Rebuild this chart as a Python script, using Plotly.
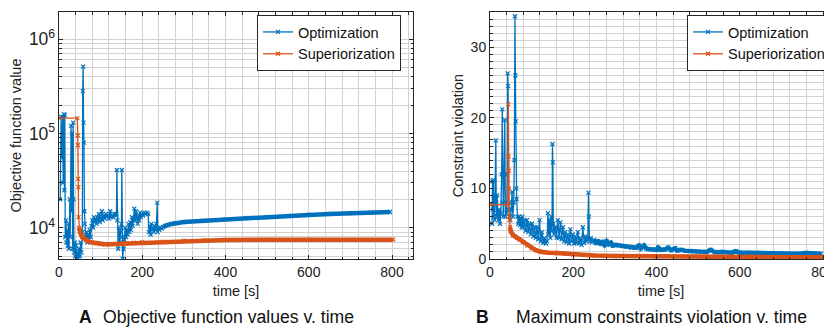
import plotly.graph_objects as go

# ---------------- data ----------------
# Panel A: objective function value vs time
opt_obj_t = [3, 5, 7, 9, 10, 12, 13, 14, 15, 17, 18, 20, 21, 23, 24, 26, 27, 29, 30, 31,
             33, 34, 35, 36, 38, 39, 41, 42, 44, 46, 48, 50, 52, 54, 56, 57, 58, 59, 60, 61,
             62, 64, 66, 68, 70, 72, 74, 76, 78, 80, 82, 84, 86, 88, 90, 92, 94, 96, 98, 100,
             103, 105, 108, 110, 113, 115, 118, 120, 123, 125, 128, 130, 133, 136, 138, 139, 140, 142, 144, 146,
             148, 150, 151, 152, 153, 155, 157, 159, 161, 163, 165, 167, 169, 171, 173, 175, 177, 179, 181, 183,
             185, 187, 189, 191, 193, 195, 197, 199, 202, 205, 208, 211, 214, 216, 218, 220, 222, 224, 226, 228,
             230, 232, 234, 236, 237, 239, 241, 244, 247, 250, 255, 260, 270, 280, 300, 350, 400, 450, 500, 550,
             600, 650, 700, 750, 795]
opt_obj_v = [2.0e4, 1.5e5, 5.5e4, 1.5e5, 3.0e4, 1.6e5, 2.5e4, 1.55e5, 8.0e3, 1.2e4, 7.0e3, 9.5e3, 6.5e3, 1.1e4, 6.0e3, 2.0e4, 8.0e3, 1.2e5, 1.5e4, 1.0e5,
             6.0e3, 1.3e5, 2.0e4, 5.5e3, 7.0e3, 5.0e3, 6.5e3, 4.8e3, 5.5e3, 4.7e3, 6.0e3, 5.0e3, 7.0e3, 5.5e3, 9.0e3, 2.8e5, 5.1e5, 1.3e5, 8.0e4, 1.5e4,
             1.1e4, 8.0e3, 9.0e3, 7.0e3, 8.5e3, 7.5e3, 9.5e3, 8.0e3, 1.05e4, 1.2e4, 1.0e4, 1.3e4, 1.15e4, 1.25e4, 1.1e4, 1.3e4, 1.2e4, 1.4e4, 1.15e4, 1.25e4,
             1.5e4, 1.2e4, 1.35e4, 1.25e4, 1.4e4, 1.3e4, 1.35e4, 1.25e4, 1.5e4, 1.3e4, 1.35e4, 1.3e4, 1.4e4, 1.35e4, 1.4e4, 4.1e4, 1.2e4, 6.0e3, 1.0e4, 7.0e3,
             9.0e3, 1.1e4, 4.1e4, 8.0e3, 4.7e3, 6.0e3, 7.5e3, 1.0e4, 8.0e3, 9.5e3, 8.5e3, 1.1e4, 9.0e3, 1.15e4, 9.5e3, 1.3e4, 1.05e4, 1.2e4, 1.6e4, 1.2e4,
             1.5e4, 1.25e4, 1.1e4, 1.35e4, 1.2e4, 1.45e4, 1.3e4, 1.4e4, 1.35e4, 1.45e4, 1.4e4, 1.45e4, 1.4e4, 9.0e3, 1.05e4, 8.5e3, 1.1e4, 9.5e3, 1.0e4, 9.0e3,
             1.05e4, 9.5e3, 1.1e4, 1.85e4, 9.0e3, 1.0e4, 9.5e3, 1.0e4, 9.8e3, 1.02e4, 1.05e4, 1.07e4, 1.1e4, 1.12e4, 1.15e4, 1.19e4, 1.23e4, 1.27e4, 1.3e4, 1.34e4,
             1.37e4, 1.4e4, 1.43e4, 1.45e4, 1.47e4]

sup_obj_t = [0, 44, 45, 45.5, 46, 46.5, 47, 48, 50, 53, 56, 60, 65, 70, 80, 90, 100,
             110, 120, 140, 160, 180, 200, 250, 300, 350, 400, 500, 600, 700, 803]
sup_obj_v = [1.45e5, 1.45e5, 9.5e4, 7.5e4, 3.3e4, 2.7e4, 1.3e4, 1.0e4, 9.0e3, 8.5e3, 8.0e3, 7.7e3, 7.4e3, 7.2e3, 7.0e3, 6.85e3, 6.75e3,
             6.7e3, 6.7e3, 6.75e3, 6.85e3, 6.95e3, 7.05e3, 7.15e3, 7.3e3, 7.4e3, 7.45e3, 7.5e3, 7.5e3, 7.5e3, 7.5e3]

# Panel B: maximum constraint violation vs time
opt_cv_t = [5, 6, 7, 8, 9, 10, 11, 12, 14, 15, 16, 17, 18, 20, 22, 24, 26, 28, 29.5, 30.5,
            32, 34, 35.5, 37, 38, 40, 41.5, 42.5, 43.5, 45, 46, 47, 49, 51, 53, 55, 57, 58.5, 60, 61,
            62, 63, 64, 66, 68, 70, 72, 74, 76, 78, 80, 83, 86, 89, 92, 95, 98, 101, 104, 107,
            110, 113, 116, 119, 122, 125, 128, 131, 134, 137, 139, 141, 143, 145, 147, 149, 150, 151, 152, 154,
            157, 160, 163, 166, 169, 172, 175, 178, 181, 184, 187, 190, 193, 196, 199, 202, 205, 208, 211, 214,
            217, 220, 223, 226, 229, 232, 235, 236.5, 237.5, 239, 242, 245, 250, 255, 260, 265, 270, 275, 280, 285,
            290, 295, 300, 310, 320, 330, 340, 350, 358, 362, 370, 375, 380, 390, 400, 404, 410, 420, 428, 435,
            445, 450, 460, 470, 480, 490, 500, 520, 530, 540, 560, 580, 590, 600, 620, 640, 660, 680, 700, 740,
            760, 780, 795]
opt_cv_v = [5, 11, 7, 11.2, 6, 9, 5.5, 8, 16.8, 8, 6, 9, 6.5, 5.5, 7, 5, 6.5, 12, 21.2, 8,
            6, 12, 19.7, 6, 8, 6.5, 12, 26.3, 24.5, 7, 8, 6, 5.5, 7, 9.5, 6, 8, 14, 34.4, 26,
            19.5, 10, 8.5, 6, 5, 6, 4.8, 5.8, 4.5, 6, 4.5, 5.5, 4, 5.5, 3.8, 5, 3.5, 5, 3.2, 4.5,
            3, 4.5, 2.8, 5.5, 2.5, 3.8, 2.3, 3, 2.2, 2.5, 6.5, 3.5, 5.5, 3, 6, 4, 16.3, 13.7, 5, 3.5,
            4.5, 3, 5.5, 3, 5.2, 2.8, 4.5, 2.5, 3.8, 2.4, 3.5, 2.2, 4.2, 2.5, 3.5, 2.2, 3.2, 2.3, 3.8, 2.2,
            3, 2, 4.5, 2.3, 3.2, 2.5, 3, 9.4, 6, 2.5, 3, 2.4, 2.7, 2.3, 2.5, 2.2, 2.4, 2.0, 2.5, 2.1,
            2.3, 1.9, 2.0, 1.9, 1.8, 1.7, 1.6, 1.6, 1.9, 1.5, 1.9, 1.5, 1.4, 1.4, 1.3, 1.6, 1.3, 1.35, 1.6, 1.25,
            1.5, 1.2, 1.3, 1.15, 1.15, 1.1, 1.05, 1.0, 1.3, 0.95, 1.0, 0.9, 1.1, 0.9, 0.9, 0.85, 0.8, 0.8, 0.8, 0.75,
            0.85, 0.75, 0.75]

sup_cv_t = [0, 43, 44, 44.5, 45, 45.5, 46, 47, 48, 50, 55, 60, 65, 70, 80, 90, 100,
            110, 120, 130, 140, 160, 180, 200, 250, 300, 400, 500, 600, 700, 803]
sup_cv_v = [7.7, 7.7, 21.9, 14.5, 12.5, 10, 6, 5.5, 4.5, 3.9, 3.4, 3.2, 3.0, 2.8, 2.4, 1.9, 1.5,
            1.25, 1.05, 0.95, 0.9, 0.85, 0.75, 0.65, 0.5, 0.42, 0.35, 0.3, 0.28, 0.25, 0.25]

series_names = ["Optimization", "Superiorization"]
x_ticks = [0, 200, 400, 600, 800]
cv_ticks = [0, 10, 20, 30]
captions = [("A", "Objective function values v. time"),
            ("B", "Maximum constraints violation v. time")]

# ---------------- style ----------------
BLUE = "#0072BD"
ORANGE = "#D95319"
FONT = "Liberation Sans, Arial, sans-serif"
WIN_W, WIN_H = 832, 327
OFF = 8  # default page body margin
W, H = WIN_W - OFF, WIN_H - OFF


def px_x(p):
    return (p - OFF) / W


def px_y(p):
    return 1 - (p - OFF) / H


def subset(t, v, t_min):
    pairs = [(a, b) for a, b in zip(t, v) if a >= t_min]
    return [a for a, _ in pairs], [b for _, b in pairs]


fig = go.Figure()

panels = [
    dict(xa="x", ya="y", legend="legend",
         opt=(opt_obj_t, opt_obj_v), sup=(sup_obj_t, sup_obj_v)),
    dict(xa="x2", ya="y2", legend="legend2",
         opt=(opt_cv_t, opt_cv_v), sup=(sup_cv_t, sup_cv_v)),
]

for p in panels:
    for name, color, (t, v), band_from, band_w in [
        (series_names[0], BLUE, p["opt"], 250, 4.5),
        (series_names[1], ORANGE, p["sup"], 48, 4.5),
    ]:
        bt, bv = subset(t, v, band_from)
        fig.add_trace(go.Scatter(
            x=bt, y=bv, mode="lines", xaxis=p["xa"], yaxis=p["ya"],
            line=dict(color=color, width=band_w), showlegend=False, hoverinfo="skip"))
        fig.add_trace(go.Scatter(
            x=t, y=v, mode="lines+markers", name=name, xaxis=p["xa"], yaxis=p["ya"],
            legend=p["legend"],
            line=dict(color=color, width=1.3),
            marker=dict(symbol="x-thin", size=4, line=dict(color=color, width=1.2), color=color)))

# reorder so that both Optimization traces are drawn first, orange on top
traces = list(fig.data)
order = [0, 1, 4, 5, 2, 3, 6, 7]
fig.data = tuple(traces[i] for i in order)

GRID = "#d2d2d2"
axis_common = dict(
    showline=True, linecolor="#262626", linewidth=1, mirror="ticks",
    ticks="inside", ticklen=4, tickcolor="#262626",
    showgrid=True, gridcolor=GRID, gridwidth=1.3,
    tickfont=dict(family=FONT, size=14, color="#222"),
    zeroline=False, ticklabeloverflow="allow",
)

L0, L1 = 59, 413
R0 = 490
TOP, BOT = 12, 259
ydom = [px_y(BOT), px_y(TOP)]
xscale = 333 / 800  # px per second

fig.update_layout(
    width=W, height=H,
    margin=dict(l=0, r=0, t=0, b=0, autoexpand=False),
    paper_bgcolor="white", plot_bgcolor="white",
    font=dict(family=FONT, size=14, color="#222"),
    xaxis=dict(axis_common, domain=[px_x(L0), px_x(L1)], range=[0, (L1 - L0) / xscale],
               tickvals=x_ticks, ticktext=[str(v) for v in x_ticks],
               minor=dict(dtick=40, tick0=0, showgrid=True, gridcolor=GRID, gridwidth=1.3,
                          ticks="inside", ticklen=2.5, tickcolor="#262626"),
               title=dict(text="time [s]", font=dict(size=14.5), standoff=7)),
    yaxis=dict(axis_common, domain=ydom, type="log", range=[3.67, 6.286],
               dtick=1, exponentformat="power", showexponent="all",
               minor=dict(dtick="D1", showgrid=True, gridcolor=GRID, gridwidth=1.3,
                          ticks="inside", ticklen=2.5, tickcolor="#262626"),
               title=dict(text="Objective function value", font=dict(size=14.5), standoff=4)),
    xaxis2=dict(axis_common, domain=[px_x(R0), 1.0], range=[0, (WIN_W - R0) / xscale],
                anchor="y2",
                tickvals=x_ticks, ticktext=[str(v) for v in x_ticks],
                minor=dict(dtick=40, tick0=0, showgrid=True, gridcolor=GRID, gridwidth=1.3,
                           ticks="inside", ticklen=2.5, tickcolor="#262626"),
                title=dict(text="time [s]", font=dict(size=14.5), standoff=7)),
    yaxis2=dict(axis_common, domain=ydom, range=[0, 35], anchor="x2", mirror=False,
                tickvals=cv_ticks,
                minor=dict(dtick=1, tick0=0, showgrid=True, gridcolor=GRID, gridwidth=1.3,
                           ticks="inside", ticklen=2.5, tickcolor="#262626"),
                title=dict(text="Constraint violation", font=dict(size=14.5), standoff=3)),
    legend=dict(x=px_x(257), y=px_y(15), xanchor="left", yanchor="top",
                bgcolor="white", bordercolor="#262626", borderwidth=1,
                font=dict(family=FONT, size=14.5, color="#111"),
                tracegroupgap=0, itemwidth=30),
    legend2=dict(x=px_x(687), y=px_y(15), xanchor="left", yanchor="top",
                 bgcolor="white", bordercolor="#262626", borderwidth=1,
                 font=dict(family=FONT, size=14.5, color="#111"),
                 tracegroupgap=0, itemwidth=30),
)

# captions
cap_font = dict(family=FONT, size=17.6, color="#111")
for (letter, text), lx, tx in zip(captions, [77, 474], [101, 514]):
    fig.add_annotation(x=px_x(lx), y=px_y(317), xref="paper", yref="paper",
                       xanchor="left", yanchor="middle", showarrow=False,
                       text=f"<b>{letter}</b>", font=cap_font)
    fig.add_annotation(x=px_x(tx), y=px_y(317), xref="paper", yref="paper",
                       xanchor="left", yanchor="middle", showarrow=False,
                       text=text, font=cap_font)

fig.write_html("out.html")
